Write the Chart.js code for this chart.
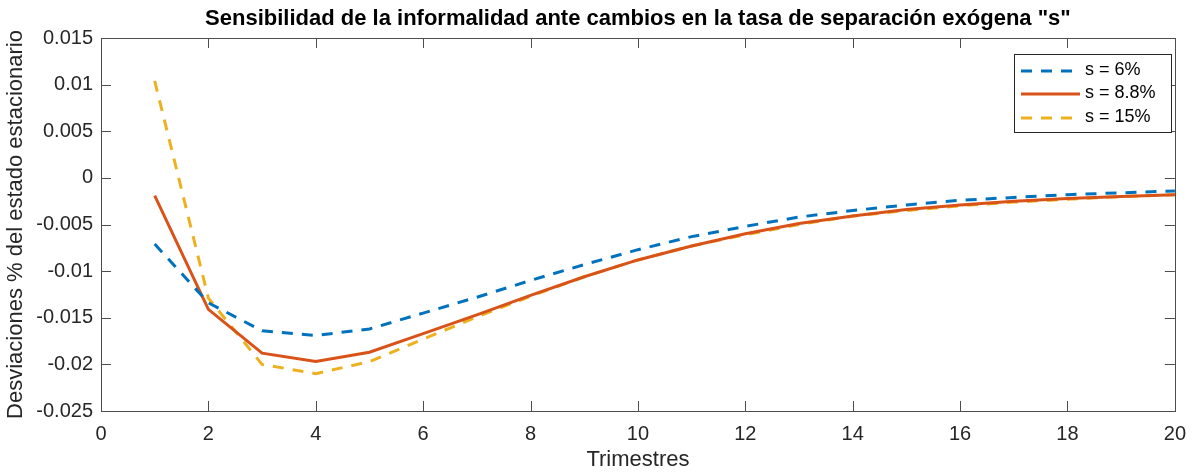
<!DOCTYPE html>
<html>
<head>
<meta charset="utf-8">
<script src="https://cdn.jsdelivr.net/npm/chart.js@4.4.1/dist/chart.umd.min.js"></script>
<style>
  html, body { margin: 0; padding: 0; background: #fff; }
  #wrap { width: 1197px; height: 475px; }
</style>
</head>
<body>
<div id="wrap"><canvas id="chart" width="1197" height="475"></canvas></div>
<script>
// valores (trimestres 1..20)
const trimestres = [1, 2, 3, 4, 5, 6, 7, 8, 9, 10, 11, 12, 13, 14, 15, 16, 17, 18, 19, 20];
const s6 = [-0.0071, -0.0134, -0.0164, -0.0169, -0.0162, -0.0145, -0.0128, -0.0110, -0.0093, -0.0077,
            -0.0063, -0.0052, -0.0042, -0.0035, -0.0029, -0.0024, -0.0021, -0.0018, -0.0016, -0.0014];
const s88 = [-0.0019, -0.0141, -0.0188, -0.0197, -0.0187, -0.0167, -0.0147, -0.0126, -0.0106, -0.0088,
             -0.0073, -0.0060, -0.0049, -0.0041, -0.0034, -0.0029, -0.0025, -0.0022, -0.0020, -0.0018];
const s15 = [0.0104, -0.0129, -0.0200, -0.0210, -0.0197, -0.0173, -0.0149, -0.0127, -0.0106, -0.0088,
             -0.0073, -0.0061, -0.0050, -0.0041, -0.0035, -0.0030, -0.0026, -0.0023, -0.0020, -0.0018];
const etiquetas = ['s = 6%', 's = 8.8%', 's = 15%'];
const xTicks = [0, 2, 4, 6, 8, 10, 12, 14, 16, 18, 20];
const yTicks = [-0.025, -0.02, -0.015, -0.01, -0.005, 0, 0.005, 0.01, 0.015];

const titulo = 'Sensibilidad de la informalidad ante cambios en la tasa de separación exógena "s"';
const FONT = '"Liberation Sans", Arial, sans-serif';
const AXIS = '#4d4d4d';

function toPoints(ys) {
    return trimestres.map((t, i) => ({ x: t, y: ys[i] }));
}

// caja, ticks hacia dentro, titulo y leyenda estilo MATLAB
const matlabStyle = {
    id: 'matlabStyle',
    afterDatasetsDraw(chart) {
        const ctx = chart.ctx;
        const a = chart.chartArea;
        const xs = chart.scales.x, ys = chart.scales.y;
        const tl = 10;
        ctx.save();
        ctx.strokeStyle = AXIS;
        ctx.lineWidth = 1;
        ctx.beginPath();
        xTicks.forEach(v => {
            const px = Math.round(xs.getPixelForValue(v)) + 0.5;
            ctx.moveTo(px, a.bottom); ctx.lineTo(px, a.bottom - tl);
            ctx.moveTo(px, a.top); ctx.lineTo(px, a.top + tl);
        });
        yTicks.forEach(v => {
            const py = Math.round(ys.getPixelForValue(v)) + 0.5;
            ctx.moveTo(a.left, py); ctx.lineTo(a.left + tl, py);
            ctx.moveTo(a.right, py); ctx.lineTo(a.right - tl, py);
        });
        ctx.stroke();
        ctx.strokeRect(Math.round(a.left) + 0.5, Math.round(a.top) + 0.5,
                       Math.round(a.right - a.left), Math.round(a.bottom - a.top));

        // titulo
        ctx.fillStyle = '#000';
        ctx.font = 'bold 22px ' + FONT;
        ctx.textAlign = 'center';
        ctx.textBaseline = 'middle';
        ctx.fillText(titulo, (a.left + a.right) / 2, 19);

        // leyenda
        const bx = 1014.5, by = 54.5, bw = 157, bh = 78;
        ctx.fillStyle = '#fff';
        ctx.fillRect(bx, by, bw, bh);
        ctx.strokeStyle = '#262626';
        ctx.strokeRect(bx, by, bw, bh);
        ctx.font = '18px ' + FONT;
        ctx.textAlign = 'left';
        const rows = [71, 94, 118];
        chart.data.datasets.forEach((ds, i) => {
            ctx.strokeStyle = ds.borderColor;
            ctx.lineWidth = ds.borderWidth;
            ctx.setLineDash(ds.borderDash || []);
            ctx.beginPath();
            ctx.moveTo(1021, rows[i]);
            ctx.lineTo(1080, rows[i]);
            ctx.stroke();
            ctx.setLineDash([]);
            ctx.fillStyle = '#000';
            ctx.fillText(ds.label, 1085, rows[i] - 1);
        });
        ctx.restore();
    }
};

new Chart(document.getElementById('chart'), {
    type: 'line',
    data: {
        datasets: [
            { label: etiquetas[0], data: toPoints(s6), borderColor: '#0072BD', borderWidth: 3, borderDash: [11, 9] },
            { label: etiquetas[1], data: toPoints(s88), borderColor: '#D95319', borderWidth: 3 },
            { label: etiquetas[2], data: toPoints(s15), borderColor: '#EDB120', borderWidth: 3, borderDash: [11, 9] }
        ]
    },
    options: {
        responsive: false,
        animation: false,
        layout: { padding: { left: 0, right: 19, top: 38, bottom: 0 } },
        elements: { point: { radius: 0 }, line: { tension: 0, fill: false } },
        plugins: { legend: { display: false }, title: { display: false }, tooltip: { enabled: false } },
        scales: {
            x: {
                type: 'linear', min: 0, max: 20,
                afterFit(s) { s.height = 64; },
                afterBuildTicks(s) { s.ticks = xTicks.map(v => ({ value: v })); },
                grid: { display: false, drawTicks: false },
                border: { display: false },
                ticks: { color: '#262626', font: { family: FONT, size: 20 }, padding: 11, maxRotation: 0 },
                title: { display: true, text: 'Trimestres', color: '#262626', font: { family: FONT, size: 22 }, padding: { top: 2, bottom: 2 } }
            },
            y: {
                type: 'linear', min: -0.025, max: 0.015,
                afterFit(s) { s.width = 101; },
                afterBuildTicks(s) { s.ticks = yTicks.map(v => ({ value: v })); },
                grid: { display: false, drawTicks: false },
                border: { display: false },
                ticks: {
                    color: '#262626', font: { family: FONT, size: 20 }, padding: 8,
                    callback: v => (Math.round(v * 1000) / 1000).toString()
                },
                title: { display: true, text: 'Desviaciones % del estado estacionario', color: '#262626', font: { family: FONT, size: 22 }, padding: { top: 3, bottom: 0 } }
            }
        }
    },
    plugins: [matlabStyle]
});
</script>
</body>
</html>
